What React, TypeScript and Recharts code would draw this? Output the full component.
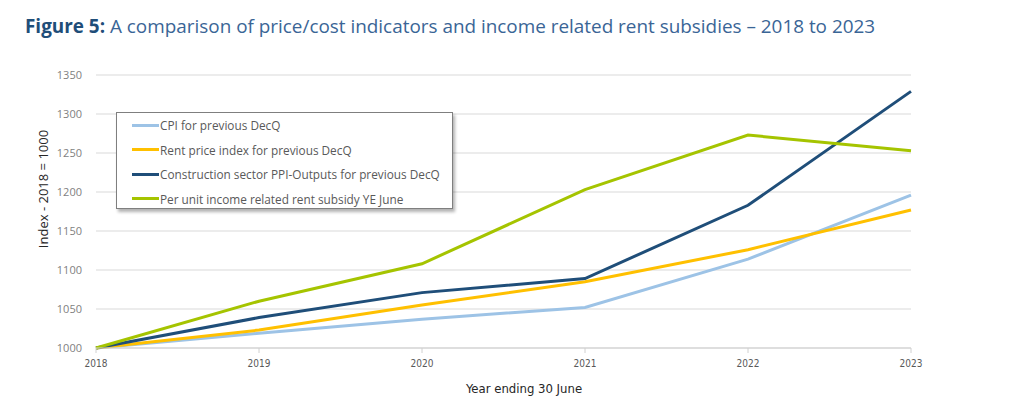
import React from 'react';
import { LineChart, Line, XAxis, YAxis, CartesianGrid, Legend, Label } from 'recharts';

const years = ['2018', '2019', '2020', '2021', '2022', '2023'];
const cpi = [1000, 1019, 1037, 1052, 1114, 1196];
const rentPrice = [1000, 1023, 1055, 1085, 1126, 1177];
const constructionPpi = [1000, 1039, 1071, 1089, 1183, 1329];
const rentSubsidy = [1000, 1060, 1108, 1203, 1273, 1253];
const yTicks = [1000, 1050, 1100, 1150, 1200, 1250, 1300, 1350];

const series = [
  { key: 'cpi', name: 'CPI for previous DecQ', color: '#9DC3E6' },
  { key: 'rent', name: 'Rent price index for previous DecQ', color: '#FFC000' },
  { key: 'ppi', name: 'Construction sector PPI-Outputs for previous DecQ', color: '#1F4E79' },
  { key: 'subsidy', name: 'Per unit income related rent subsidy YE June', color: '#A5C400' },
];

const data = years.map((year, i) => ({
  year,
  cpi: cpi[i],
  rent: rentPrice[i],
  ppi: constructionPpi[i],
  subsidy: rentSubsidy[i],
}));

const FONT = "'Open Sans', 'Liberation Sans', sans-serif";
const NARROW = "'Liberation Sans Narrow', 'DejaVu Sans Condensed', sans-serif";

const LegendBox = () => (
  <div
    style={{
      width: 337,
      height: 97,
      boxSizing: 'border-box',
      border: '1px solid #7f7f7f',
      background: '#fff',
      boxShadow: '2px 3px 3px rgba(0,0,0,0.3)',
      padding: '0px 0 0 15px',
      fontFamily: FONT,
      fontSize: 11.8,
      color: '#595959',
    }}
  >
    {series.map((s) => (
      <div key={s.key} style={{ display: 'flex', alignItems: 'center', height: 24.5 }}>
        <span style={{ display: 'inline-block', width: 27, height: 3, background: s.color, marginRight: 1 }} />
        <span style={{ whiteSpace: 'nowrap' }}>{s.name}</span>
      </div>
    ))}
  </div>
);

const YTitle = () => (
  <text
    x={43}
    y={189}
    transform="rotate(-90 43 189)"
    textAnchor="middle"
    dominantBaseline="central"
    style={{ fontSize: 13, fill: '#262626', fontFamily: FONT }}
  >
    Index - 2018 = 1000
  </text>
);

const XTitle = () => (
  <text
    x={524}
    y={388}
    textAnchor="middle"
    dominantBaseline="central"
    style={{ fontSize: 13, fill: '#262626', fontFamily: NARROW }}
  >
    Year ending 30 June
  </text>
);

export default function App() {
  return (
    <div style={{ position: 'absolute', left: 0, top: 0, width: 1023, height: 417, background: '#fff' }}>
      <div
        style={{
          position: 'absolute',
          left: 25,
          top: 13,
          fontFamily: FONT,
          fontSize: 18.9,
          color: '#3a6596',
          whiteSpace: 'nowrap',
        }}
      >
        <span style={{ fontWeight: 700, color: '#1F4E79' }}>Figure 5:</span> A comparison of price/cost indicators and income related rent subsidies – 2018 to 2023
      </div>
      <div style={{ position: 'absolute', left: 0, top: 0 }}>
        <LineChart width={1023} height={417} data={data} margin={{ top: 75, right: 112, bottom: 0, left: 0 }}>
          <CartesianGrid vertical={false} stroke="#d9d9d9" strokeWidth={1} />
          <XAxis
            dataKey="year"
            height={69}
            stroke="#d0d0d0"
            tickSize={5}
            tickMargin={7}
            tick={{ fontSize: 10, fill: '#595959', fontFamily: NARROW }}
            interval={0}
          >
            <Label content={<XTitle />} />
          </XAxis>
          <YAxis
            width={96}
            domain={[1000, 1350]}
            ticks={yTicks}
            axisLine={false}
            tickLine={false}
            tickSize={6}
            tickMargin={8}
            tick={{ fontSize: 11, fill: '#7f7f7f', fontFamily: FONT }}
          >
            <Label content={<YTitle />} />
          </YAxis>
          <Legend
            layout="vertical"
            align="center"
            verticalAlign="middle"
            content={<LegendBox />}
            wrapperStyle={{ position: 'absolute', left: 116, top: 112, width: 337, height: 97 }}
          />
          {series.map((s) => (
            <Line
              key={s.key}
              type="linear"
              dataKey={s.key}
              name={s.name}
              stroke={s.color}
              strokeWidth={3}
              dot={false}
              activeDot={false}
              isAnimationActive={false}
            />
          ))}
        </LineChart>
      </div>
    </div>
  );
}
